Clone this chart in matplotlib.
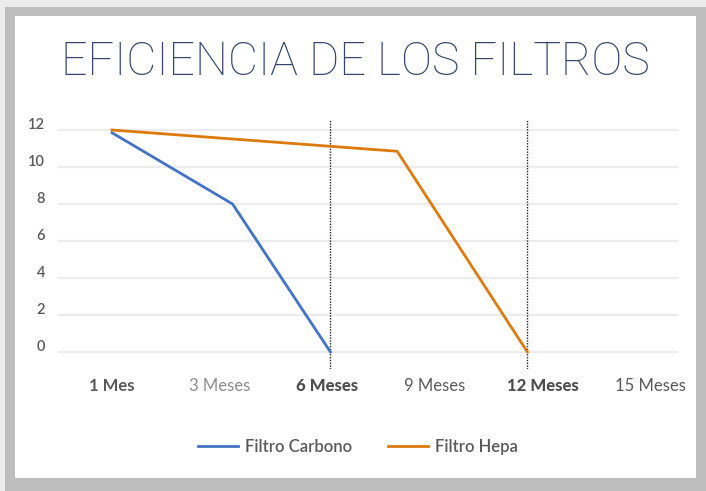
import matplotlib.pyplot as plt
import matplotlib.transforms as mtransforms
from matplotlib.patches import Rectangle

# data
meses = ['1 Mes', '3 Meses', '6 Meses', '9 Meses', '12 Meses', '15 Meses']
carbono_x = [0, 1.12, 2.03]
carbono_y = [11.85, 8.0, 0]
hepa_x = [0, 2.65, 3.86]
hepa_y = [12, 10.85, 0]
y_ticks = [0, 2, 4, 6, 8, 10, 12]

FONT = ['Lato', 'DejaVu Sans']
GRAY = '#595959'
W, H = 706, 491

fig = plt.figure(figsize=(W / 100, H / 100), dpi=100)
fig.patch.set_facecolor('#ececec')

def px_rect(x0, y0, x1, y1, color):
    # rectangle in pixel coordinates (origin top left)
    fig.patches.append(Rectangle((x0 / W, 1 - y1 / H), (x1 - x0) / W, (y1 - y0) / H,
                                 transform=fig.transFigure, facecolor=color,
                                 edgecolor='none', zorder=-10))

px_rect(5, 7, W, H, '#bdbdbd')
px_rect(15, 16, 696, 478, 'white')

ax = fig.add_axes([58 / W, 1 - 368.6 / H, 620 / W, 249.7 / H])
ax.set_facecolor('none')
ax.set_xlim(-0.502, 5.26)
ax.set_ylim(-0.9, 12.6)

for yv in y_ticks:
    ax.axhline(yv, color='#ececec', lw=1.6, zorder=1)

ax.plot(carbono_x, carbono_y, color='#4472c4', lw=2, label='Filtro Carbono', zorder=3)
ax.plot(hepa_x, hepa_y, color='#dd7a0e', lw=2, label='Filtro Hepa', zorder=3)

for xv in [carbono_x[-1], hepa_x[-1]]:
    ax.axvline(xv, color='#222222', lw=1, ls=(0, (1, 1)), zorder=2)

for s in ax.spines.values():
    s.set_visible(False)
ax.tick_params(length=0)

ax.set_yticks(y_ticks)
ax.set_yticklabels([str(v) for v in y_ticks], family=FONT, fontsize=10.5,
                   fontweight='semibold', color=GRAY)
off = mtransforms.ScaledTranslation(-0.08, 0.06, fig.dpi_scale_trans)
for lab in ax.get_yticklabels():
    lab.set_transform(lab.get_transform() + off)

ax.set_xticks(range(len(meses)))
ax.set_xticklabels(meses, family=FONT, fontsize=12, color=GRAY)
weights = ['bold', 'normal', 'black', 'normal', 'black', 'normal']
colors = [GRAY, '#8c8c8c', '#4d4d4d', GRAY, '#4d4d4d', GRAY]
for lab, w, c in zip(ax.get_xticklabels(), weights, colors):
    lab.set_fontweight(w)
    lab.set_color(c)
ax.tick_params(axis='x', pad=7)

fig.text(355 / W, 1 - 62 / H, 'EFICIENCIA DE LOS FILTROS', ha='center', va='center',
         family=['Roboto', 'DejaVu Sans'], fontweight='light', fontsize=33.5,
         color='#34456b')

leg = ax.legend(loc='center', bbox_to_anchor=(358 / W, 1 - 447 / H),
                bbox_transform=fig.transFigure, ncol=2, frameon=False,
                handlelength=2.4, columnspacing=2.2, handletextpad=0.4,
                prop={'family': FONT, 'size': 12, 'weight': 'semibold'})
for t in leg.get_texts():
    t.set_color(GRAY)

fig.savefig('out.png', dpi=100, facecolor=fig.get_facecolor())
